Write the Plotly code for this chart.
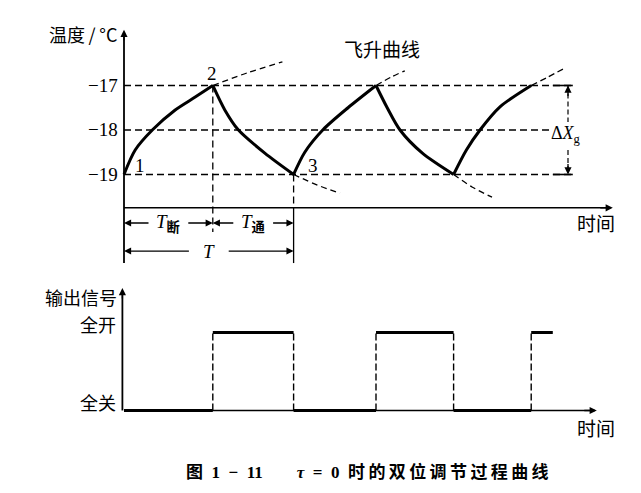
import plotly.graph_objects as go

# ---------------- data ----------------
# relay switching instants (time units) and output level after each switch
switch_t = [0.0, 11.1, 21.2, 31.5, 41.2, 50.9]
signal_levels = [0, 1, 0, 1, 0, 1]
signal_end_t = 53.6

temp_levels = [-17, -18, -19]
temp_tick_text = ["\u221217", "\u221218", "\u221219"]
signal_tick_vals = [1, 0]
signal_tick_text = ["全开", "全关"]

# temperature while the relay is off (rising) / on (falling)
rise1_t = [0.0, 1.4, 3.6, 6.4, 8.9, 11.1]
rise1_T = [-19.0, -18.45, -17.99, -17.55, -17.26, -17.0]
fall1_t = [11.1, 12.6, 14.25, 17.6, 21.2]
fall1_T = [-17.0, -17.55, -17.99, -18.52, -19.0]
rise2_t = [21.2, 22.6, 24.9, 28.0, 31.5]
rise2_T = [-19.0, -18.5, -17.99, -17.5, -17.0]
fall2_t = [31.5, 32.9, 34.5, 37.3, 41.2]
fall2_T = [-17.0, -17.5, -18.0, -18.52, -19.0]
rise3_t = [41.2, 42.8, 44.5, 47.0, 50.9]
rise3_T = [-19.0, -18.45, -18.0, -17.48, -17.0]

# step-response continuations past each switching point
ext1_t = [11.1, 15.5, 19.8]
ext1_T = [-17.0, -16.71, -16.47]
ext2_t = [21.2, 24.2, 27.0]
ext2_T = [-19.0, -19.24, -19.42]
ext3_t = [31.5, 33.4, 35.1]
ext3_T = [-17.0, -16.81, -16.67]
ext4_t = [41.2, 43.5, 46.0]
ext4_T = [-19.0, -19.28, -19.51]
ext5_t = [50.9, 53.0, 55.1]
ext5_T = [-17.0, -16.81, -16.61]

point_names = ["1", "2", "3"]

# ---------------- styling ----------------
INK = "black"
SERIF = "Liberation Serif, Noto Sans CJK SC"
CJK = "Noto Sans CJK SC, Liberation Serif"
DASH_REF = "7px,4px"
DASH_EXT = "6px,4px"

T_AXIS = -19.75      # temperature at which the time axis is drawn
T_LOW_END = -20.99   # lower end of the left axis line / right marker
ROW_OFF = -20.09     # dimension row for T_off / T_on
ROW_T = -20.72       # dimension row for T

fig = go.Figure()


def line(x, y, width=1.3, dash=None, yaxis="y", shape="linear"):
    fig.add_trace(go.Scatter(
        x=x, y=y, mode="lines", yaxis=yaxis, hoverinfo="skip",
        line=dict(color=INK, width=width, dash=dash, shape=shape, smoothing=0.8),
    ))


def arrowhead(x, y, ax, ay, yref="y", width=1.3, axref="pixel"):
    kw = dict(x=x, y=y, ax=ax, ay=ay, xref="x", yref=yref, text="",
              showarrow=True, arrowhead=2, arrowsize=1.1, arrowwidth=width,
              arrowcolor=INK, standoff=0)
    if axref != "pixel":
        kw.update(axref="x", ayref=yref)
    fig.add_annotation(**kw)


# ---- upper panel: temperature ----
ref_ends = {-17: 56.1, -18: 53.2, -19: 56.1}
for lvl in temp_levels:
    line([0, ref_ends[lvl]], [lvl, lvl], width=1.3, dash=DASH_REF)

for tx, ty in [(ext1_t, ext1_T), (ext2_t, ext2_T), (ext3_t, ext3_T),
               (ext4_t, ext4_T), (ext5_t, ext5_T)]:
    line(tx, ty, width=1.3, dash=DASH_EXT, shape="spline")

for tx, ty in [(rise1_t, rise1_T), (fall1_t, fall1_T), (rise2_t, rise2_T),
               (fall2_t, fall2_T), (rise3_t, rise3_T)]:
    line(tx, ty, width=3.0, shape="spline")

# switching markers down to the dimension rows
line([switch_t[1], switch_t[1]], [temp_levels[0], -20.29], width=1.3, dash=DASH_REF)
line([switch_t[2], switch_t[2]], [temp_levels[2], T_AXIS], width=1.3, dash=DASH_REF)
line([switch_t[2], switch_t[2]], [T_AXIS, T_LOW_END], width=1.3)

# axes
line([0, 0], [T_LOW_END, -15.9], width=1.8)
arrowhead(0, -15.75, 0, 12)
line([0, 60.6], [T_AXIS, T_AXIS], width=1.5)
arrowhead(61.1, T_AXIS, -14, 0)

# ΔX bracket
dx_t = 55.5
line([53.6, 56.1], [temp_levels[0], temp_levels[0]], width=1.6)
line([53.6, 56.1], [temp_levels[2], temp_levels[2]], width=1.6)
line([dx_t, dx_t], [temp_levels[0], -17.82], width=1.2, dash="5px,3px")
line([dx_t, dx_t], [-18.45, temp_levels[2]], width=1.2, dash="5px,3px")
arrowhead(dx_t, temp_levels[0], 0, 12)
arrowhead(dx_t, temp_levels[2], 0, -12)
fig.add_annotation(x=dx_t - 0.3, y=-18.11, xref="x", yref="y", showarrow=False,
                   text="\u0394<i>X</i><sub>g</sub>",
                   font=dict(family=SERIF, size=18, color=INK))

# dimension arrows for T_off, T_on and T
half_gap = 2.3
dims = [
    (switch_t[0], switch_t[1], ROW_OFF, "<i>T</i><sub><b>断</b></sub>"),
    (switch_t[1], switch_t[2], ROW_OFF, "<i>T</i><sub><b>通</b></sub>"),
    (switch_t[0], switch_t[2], ROW_T, "<i>T</i>"),
]
for a, b, row, label in dims:
    mid = (a + b) / 2
    arrowhead(a, row, mid - half_gap, row, axref="x")
    arrowhead(b, row, mid + half_gap, row, axref="x")
    fig.add_annotation(x=mid, y=row, xref="x", yref="y", showarrow=False,
                       text=label, font=dict(family=SERIF, size=19, color=INK))

# tick labels
for lvl, txt in zip(temp_levels, temp_tick_text):
    fig.add_annotation(x=-0.5, y=lvl, xref="x", yref="y", showarrow=False,
                       xanchor="right", yanchor="middle", text=txt,
                       font=dict(family=SERIF, size=19, color=INK))

# numbered points
point_xy = [(rise1_t[0], rise1_T[0]), (fall1_t[0], fall1_T[0]), (fall1_t[-1], fall1_T[-1])]
point_shift = [(16, 9), (-1, 12), (19, 9)]
for name, (px, py), (sx, sy) in zip(point_names, point_xy, point_shift):
    fig.add_annotation(x=px, y=py, xref="x", yref="y", showarrow=False,
                       xshift=sx, yshift=sy, text=name,
                       font=dict(family=SERIF, size=19, color=INK))

# ---- lower panel: controller output ----
line([-0.2, -0.2], [0, 1.48], width=1.8, yaxis="y2")
arrowhead(-0.2, 1.57, 0, 12, yref="y2")
line([0, 58.6], [0, 0], width=1.4, yaxis="y2")
arrowhead(59.1, 0, -14, 0, yref="y2")

seg_x, seg_y = [], []
for i, lvl in enumerate(signal_levels):
    end = switch_t[i + 1] if i + 1 < len(switch_t) else signal_end_t
    seg_x += [switch_t[i], end, None]
    seg_y += [lvl, lvl, None]
line(seg_x, seg_y, width=3.0, yaxis="y2")

edge_x, edge_y = [], []
for t in switch_t[1:]:
    edge_x += [t, t, None]
    edge_y += [0, 1, None]
line(edge_x, edge_y, width=1.4, dash="7px,3px", yaxis="y2")

for val, txt in zip(signal_tick_vals, signal_tick_text):
    fig.add_annotation(x=-0.75, y=val, xref="x", yref="y2", showarrow=False,
                       xanchor="right", yanchor="middle", yshift=8, text=txt,
                       font=dict(family=CJK, size=18, color=INK))

# ---- free text ----
def paper_text(px, py, txt, size=18, anchor="center", family=CJK):
    fig.add_annotation(x=px / 641, y=1 - py / 493, xref="paper", yref="paper",
                       showarrow=False, xanchor=anchor, yanchor="middle",
                       text=txt, font=dict(family=family, size=size, color=INK))


paper_text(119, 34, "温度\u2009/\u2009°C", size=18, anchor="right", family=CJK)
paper_text(382, 49, "飞升曲线", size=19)
paper_text(596, 223, "时间", size=19)
paper_text(119, 297, "输出信号", size=18, anchor="right")
paper_text(596, 427, "时间", size=19)

sp = "\u2009"
caption = ("<b>图\u20021\u2002\u2212\u200211\u3000\u3000<i>τ</i>\u2002=\u20020\u2002"
           + sp.join("时的双位调节过程曲线") + "</b>")
paper_text(367, 472, caption, size=17, family=SERIF)

fig.update_layout(
    width=641, height=493,
    margin=dict(l=0, r=0, t=0, b=0),
    paper_bgcolor="white", plot_bgcolor="white",
    showlegend=False,
    xaxis=dict(range=[-15.5, 64.625], domain=[0, 1], visible=False, fixedrange=True),
    yaxis=dict(range=[-26.157, -15.079], domain=[0, 1], visible=False, fixedrange=True),
    yaxis2=dict(range=[-1.058, 5.263], overlaying="y", anchor="x",
                visible=False, fixedrange=True),
)

fig.write_html("out.html")
